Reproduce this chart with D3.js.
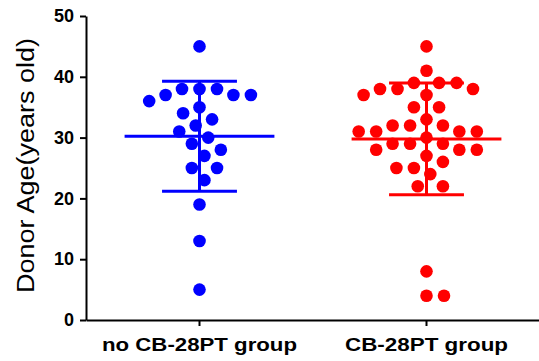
<!DOCTYPE html>
<html>
<head>
<meta charset="utf-8">
<script src="https://cdn.jsdelivr.net/npm/d3@7"></script>
<style>
  html, body { margin: 0; padding: 0; background: #fff; }
  svg { display: block; }
</style>
</head>
<body>
<svg id="chart" width="539" height="361"></svg>
<script>
// ---- data ----
const categories = ["no CB-28PT group", "CB-28PT group"];
const noCB28PTAges = [45, 38, 38, 38, 37, 37, 37, 36, 35, 34, 33, 32, 31, 30, 29, 28, 27, 25, 25, 23, 19, 13, 5];
const cb28PTAges = [45, 41, 39, 39, 39, 38, 38, 38, 37, 37, 35, 35, 33, 32, 32, 32, 31, 31, 31, 31, 30,
                    29, 29, 29, 28, 28, 28, 27, 26, 25, 25, 24, 22, 22, 8, 4, 4];
const groupColors = ["#0000ff", "#ff0000"];
const yTicks = [0, 10, 20, 30, 40, 50];
const yTitle = "Donor Age(years old)";

const groups = [noCB28PTAges, cb28PTAges];

// ---- layout ----
const svg = d3.select("#chart");
const font = "'Liberation Sans', Arial, Helvetica, sans-serif";
const mLeft = 86, mRight = 540, mTop = 16, mBottom = 320;

const y = d3.scaleLinear().domain([0, 50]).range([mBottom, mTop]);
const x = d3.scaleBand().domain(categories).range([mLeft, mRight]).padding(0);
const cx = c => x(c) + x.bandwidth() / 2;

const r = 6.3;
const D = 17.5; // min center spacing for the swarm

function swarm(values) {
  const placed = [];
  const order = values.map((v, i) => i).sort((a, b) => values[b] - values[a]);
  const out = new Array(values.length);
  order.forEach((i, k) => {
    const py = y(values[i]);
    const cands = [0];
    placed.forEach(p => {
      const dy = Math.abs(p.y - py);
      if (dy < D) {
        const dx = Math.sqrt(D * D - dy * dy);
        cands.push(p.x + dx, p.x - dx);
      }
    });
    const ok = cands.filter(c => placed.every(p => Math.hypot(p.x - c, p.y - py) >= D - 1e-6));
    ok.sort((a, b) => (Math.abs(a) - Math.abs(b)) || (k % 2 ? a - b : b - a));
    const best = ok[0];
    placed.push({ x: best, y: py });
    out[i] = { v: values[i], dx: best };
  });
  return out;
}

// dots
groups.forEach((vals, gi) => {
  const c = categories[gi];
  svg.append("g").selectAll("circle")
    .data(swarm(vals))
    .join("circle")
    .attr("cx", d => cx(c) + d.dx)
    .attr("cy", d => y(d.v))
    .attr("r", r)
    .attr("fill", groupColors[gi]);
});

// mean and SD lines
groups.forEach((vals, gi) => {
  const c = categories[gi];
  const m = d3.mean(vals), sd = d3.deviation(vals);
  const g = svg.append("g").attr("stroke", groupColors[gi]).attr("stroke-width", 3);
  const half = x.bandwidth() * 0.33, cap = x.bandwidth() * 0.165;
  g.append("line").attr("x1", cx(c) - half).attr("x2", cx(c) + half)
    .attr("y1", y(m)).attr("y2", y(m));
  g.append("line").attr("x1", cx(c)).attr("x2", cx(c))
    .attr("y1", y(m + sd)).attr("y2", y(m - sd));
  g.append("line").attr("x1", cx(c) - cap).attr("x2", cx(c) + cap)
    .attr("y1", y(m + sd)).attr("y2", y(m + sd));
  g.append("line").attr("x1", cx(c) - cap).attr("x2", cx(c) + cap)
    .attr("y1", y(m - sd)).attr("y2", y(m - sd));
});

// y axis
const yAxis = svg.append("g").attr("transform", `translate(${mLeft},0)`)
  .call(d3.axisLeft(y).tickValues(yTicks).tickSize(6).tickSizeOuter(0).tickPadding(6));
yAxis.select(".domain").attr("stroke", "#000").attr("stroke-width", 2);
yAxis.selectAll(".tick line").attr("stroke", "#000").attr("stroke-width", 2);
yAxis.selectAll(".tick text").attr("font-family", font).attr("font-size", 18)
  .attr("font-weight", "bold").attr("fill", "#000");

// x axis
const labelWidths = [195, 163];
const xAxis = svg.append("g").attr("transform", `translate(0,${mBottom})`)
  .call(d3.axisBottom(x).tickSize(6).tickSizeOuter(0).tickPadding(12));
xAxis.select(".domain").attr("stroke", "#000").attr("stroke-width", 2);
xAxis.selectAll(".tick line").attr("stroke", "#000").attr("stroke-width", 2);
xAxis.selectAll(".tick text").attr("font-family", font).attr("font-size", 18.5)
  .attr("font-weight", "bold").attr("fill", "#000")
  .attr("textLength", (d, i) => labelWidths[i]).attr("lengthAdjust", "spacingAndGlyphs");

// y title
svg.append("text")
  .attr("transform", "translate(34,165.5) rotate(-90)")
  .attr("text-anchor", "middle")
  .attr("font-family", font).attr("font-size", 23)
  .attr("fill", "#000")
  .attr("textLength", 255).attr("lengthAdjust", "spacingAndGlyphs")
  .text(yTitle);
</script>
</body>
</html>
